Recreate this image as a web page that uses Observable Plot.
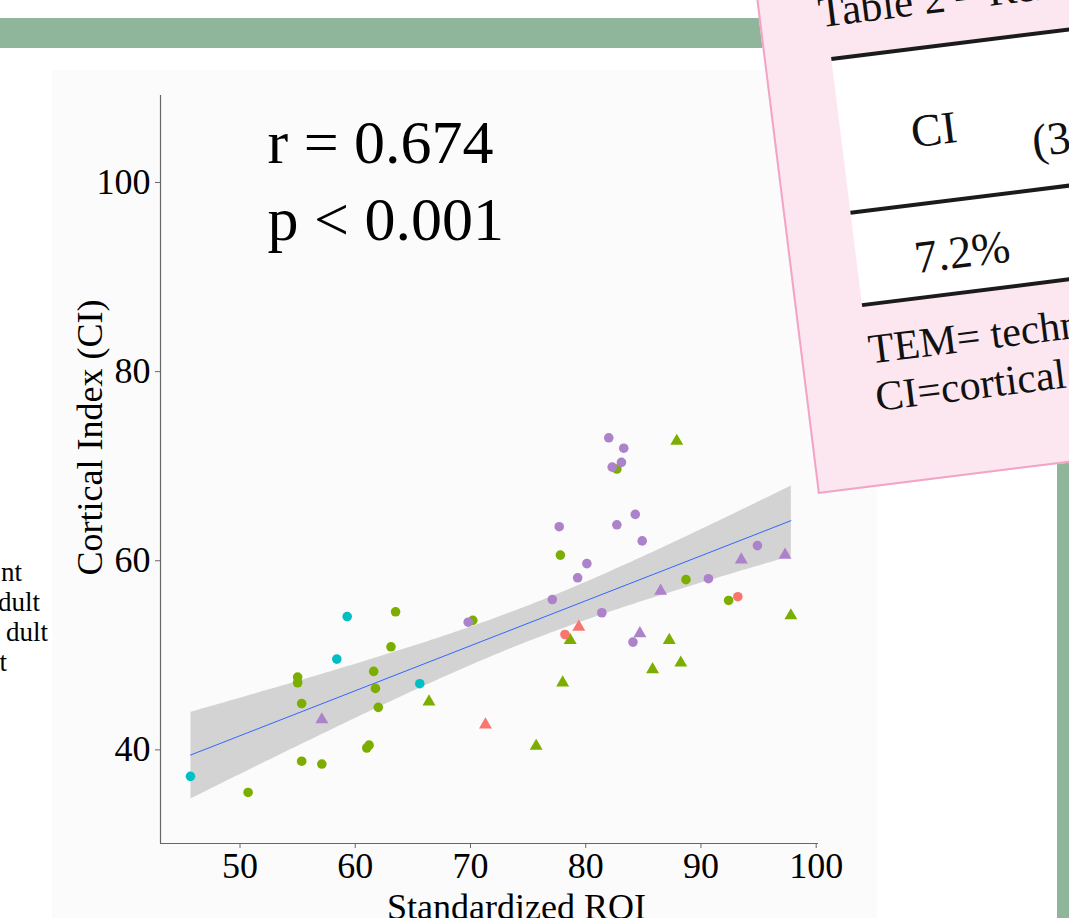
<!DOCTYPE html>
<html>
<head>
<meta charset="utf-8">
<script src="https://cdn.jsdelivr.net/npm/d3@7"></script>
<script src="https://cdn.jsdelivr.net/npm/@observablehq/plot@0.6"></script>
<style>
  html, body { margin: 0; padding: 0; background: #ffffff; }
  #page { position: relative; width: 1069px; height: 918px; overflow: hidden; background: #ffffff;
          font-family: "Liberation Serif", "Times New Roman", serif; color: #000; }
  .abs { position: absolute; }
  .leg { position: absolute; font-size: 27px; line-height: 1; white-space: nowrap; text-align: right; }
  #box { position: absolute; left: 818px; top: -66px; width: 620px; height: 560px; box-sizing: border-box;
         background: #fce7f0; border-left: 2px solid #f3a3c5; border-bottom: 2px solid #f3a3c5;
         transform-origin: 0 100%; transform: rotate(-7.1deg); }
  #box .t { position: absolute; line-height: 1; white-space: nowrap; font-family: "Liberation Serif", serif; color: #111; }
  #box .rule { position: absolute; left: 65px; width: 600px; height: 4px; background: #1b1b1b; }
</style>
</head>
<body>
<div id="page">
  <div class="abs" style="left:0;top:18px;width:1069px;height:30px;background:#8fb59a"></div>
  <div class="abs" style="left:1057px;top:300px;width:12px;height:618px;background:#8fb59a"></div>
  <div class="abs" style="left:52px;top:70px;width:825px;height:848px;background:#fbfbfb"></div>
  <div id="legend"></div>
  <div id="chart" class="abs" style="left:0;top:0"></div>
  <div id="box">
    <div class="abs" style="left:65px;bottom:180px;width:600px;height:248px;background:#ffffff"></div>
    <div class="rule" style="bottom:426px"></div>
    <div class="rule" style="bottom:271px"></div>
    <div class="rule" style="bottom:178px"></div>
    <div class="t" style="left:58px;bottom:454px;font-size:43px">Table 2 – Reliability</div>
    <div class="t" style="left:135px;bottom:322px;font-size:46px">CI</div>
    <div class="t" style="left:254px;bottom:298px;font-size:46px">(3</div>
    <div class="t" style="left:123px;bottom:197px;font-size:46px">7.2%</div>
    <div class="t" style="left:66px;bottom:114px;font-size:42px">TEM= technical error of measurement</div>
    <div class="t" style="left:67px;bottom:66px;font-size:42px">CI=cortical index</div>
  </div>
</div>
<script>
// ---- data ----
const xDomain = [43.1, 100.2];
const yDomain = [30.1, 109.2];
const xTicks = [50, 60, 70, 80, 90, 100];
const yTicks = [40, 60, 80, 100];

const groupNames = ["Group 1", "Group 2", "Group 3", "Group 4"];
const groupColors = ["#F8766D", "#7CAE00", "#00BFC4", "#AC82CA"];
const shapeNames = ["circle", "triangle"];

// Standardized ROI
const roi = [
  45.7, 58.4, 59.3, 65.6,
  50.7, 55.35, 57.1, 61.0, 61.2, 55.35, 55.0, 55.0, 63.5, 63.1, 61.6, 61.75, 62.0, 70.2, 82.7, 77.8, 88.7, 92.4,
  66.4, 87.9, 97.8, 78.65, 87.25, 85.8, 88.25, 78.0, 75.7,
  69.8, 82.0, 83.3, 82.3, 83.1, 77.7, 82.7, 84.3, 84.9, 80.1, 79.3, 77.1, 81.4, 90.65, 94.9, 84.1,
  57.1, 86.5, 93.5, 97.3, 84.7,
  78.2, 93.2,
  71.3, 79.4
];
// Cortical Index (CI)
const cortical = [
  37.2, 49.6, 54.1, 47.0,
  35.5, 38.8, 38.5, 40.2, 40.5, 44.9, 47.7, 47.1, 54.6, 50.9, 48.3, 46.5, 44.5, 53.7, 69.7, 60.6, 58.0, 55.8,
  45.1, 72.65, 54.2, 51.6, 51.6, 48.5, 49.2, 47.1, 40.4,
  53.5, 73.0, 71.9, 69.9, 70.4, 63.6, 63.8, 64.9, 62.1, 59.7, 58.2, 55.9, 54.5, 58.1, 61.6, 51.4,
  43.2, 56.8, 60.1, 60.6, 52.3,
  52.2, 56.2,
  42.65, 53.0
];
const group = [
  ...Array(4).fill("Group 3"),
  ...Array(18).fill("Group 2"),
  ...Array(9).fill("Group 2"),
  ...Array(16).fill("Group 4"),
  ...Array(5).fill("Group 4"),
  ...Array(2).fill("Group 1"),
  ...Array(2).fill("Group 1")
];
const shape = [
  ...Array(4).fill("circle"),
  ...Array(18).fill("circle"),
  ...Array(9).fill("triangle"),
  ...Array(16).fill("circle"),
  ...Array(5).fill("triangle"),
  ...Array(2).fill("circle"),
  ...Array(2).fill("triangle")
];
const statLines = "r = 0.674\np < 0.001";
const xLabel = "Standardized ROI";
const yLabel = "Cortical Index (CI)";
const legendFragments = ["nt", "dult", "dult", "t"];

// ---- build table ----
const data = roi.map((x, i) => ({roi: x, ci: cortical[i], group: group[i], shape: shape[i]}));

const chart = Plot.plot({
  width: 1069,
  height: 918,
  marginLeft: 160,
  marginRight: 251,
  marginTop: 95,
  marginBottom: 75,
  style: {background: "transparent", fontFamily: "'Liberation Serif', 'Times New Roman', serif", fontSize: "36px", color: "#000", overflow: "visible"},
  x: {domain: xDomain},
  y: {domain: yDomain},
  color: {domain: groupNames, range: groupColors},
  symbol: {domain: shapeNames, range: shapeNames},
  marks: [
    Plot.linearRegressionY(data, {x: "roi", y: "ci", stroke: "#3366FF", strokeWidth: 1, fill: "#999999", fillOpacity: 0.4, ci: 0.95}),
    Plot.dot(data, {x: "roi", y: "ci", fill: {value: "group", scale: "color"}, symbol: "shape", r: 4.8, stroke: null}),
    Plot.ruleX([xDomain[0]], {stroke: "#666", strokeWidth: 1.2}),
    Plot.ruleY([yDomain[0]], {stroke: "#666", strokeWidth: 1.2}),
    Plot.axisX({ticks: xTicks, tickSize: 5, tickPadding: 4, label: null, stroke: "#666", fontSize: 36}),
    Plot.axisY({ticks: yTicks, tickSize: 5, tickPadding: 5, label: null, stroke: "#666", fontSize: 36}),
    Plot.text([xLabel], {frameAnchor: "bottom", dx: 27, dy: 64, lineAnchor: "middle", textAnchor: "middle", fontSize: 36, fill: "#000"}),
    Plot.text([yLabel], {frameAnchor: "left", dx: -70, dy: -32, rotate: -90, lineAnchor: "middle", textAnchor: "middle", fontSize: 36, fill: "#000"}),
    Plot.text([statLines], {frameAnchor: "top-left", dx: 107, dy: 13, lineAnchor: "top", textAnchor: "start", fontSize: 62, lineHeight: 1.24, fill: "#000"})
  ]
});
document.getElementById("chart").appendChild(chart);

// legend remnants at the left edge
const legendEnds = [22, 40, 48, 7];
const legendBaselines = [582, 612, 642, 672];
const legendDiv = document.getElementById("legend");
legendFragments.forEach((s, i) => {
  const el = document.createElement("div");
  el.className = "leg";
  el.textContent = s;
  el.style.right = (1069 - legendEnds[i]) + "px";
  el.style.top = (legendBaselines[i] - 0.8375 * 27) + "px";
  legendDiv.appendChild(el);
});
</script>
</body>
</html>
